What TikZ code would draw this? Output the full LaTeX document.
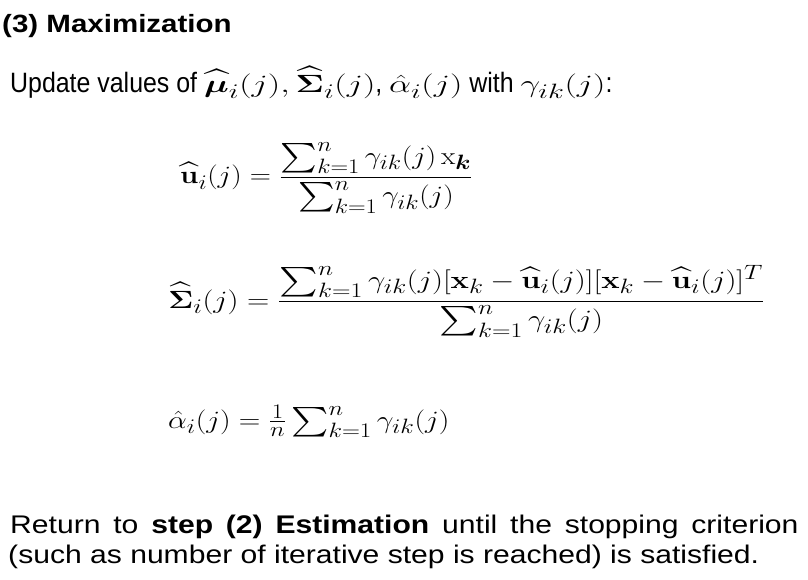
\documentclass[tikz,border=0pt]{standalone}
\usepackage{amsmath,amssymb}
\usepackage[no-math]{fontspec}
\setmainfont{Liberation Sans}
\newcommand\inmath[1]{\scalebox{1.58}[1]{\fontsize{32}{36}\selectfont$#1$}}
\begin{document}
\begin{tikzpicture}[x=1pt,y=-1pt]
	\useasboundingbox (0,0) rectangle (808,580);
	\begin{scope}[every node/.style={inner sep=0pt,anchor=base west}]
		\tikzstyle{head}=[font=\fontsize{25}{28}\selectfont\bfseries,xscale=1.18];
		\tikzstyle{body}=[font=\fontsize{28}{32}\selectfont,xscale=0.89];
		\tikzstyle{eqn}=[font=\fontsize{29.5}{34}\selectfont];
		\tikzstyle{foot}=[font=\fontsize{25.5}{30}\selectfont,xscale=1.18];
		\path (2,33) node[head] (title) {(3) Maximization};
		\path (10,93) node[body] (update) {Update values of \inmath{\widehat{\boldsymbol{\mu}}_i(j),\widehat{\boldsymbol{\Sigma}}_i(j)}, \inmath{\hat{\alpha}_i(j)} with \inmath{\gamma_{ik}(j)}:};
		% the three update rules
		\path (180,184) node[eqn,xscale=1.18] (muhat) {$\displaystyle \widehat{\mathbf{u}}_i(j)=\frac{\sum_{k=1}^{n}\gamma_{ik}(j)\,\mathrm{x}_{\boldsymbol{k}}}{\sum_{k=1}^{n}\gamma_{ik}(j)}$};
		\path (168,308) node[eqn,xscale=1.24] (sigmahat) {$\displaystyle \widehat{\boldsymbol{\Sigma}}_i(j)=\frac{\sum_{k=1}^{n}\gamma_{ik}(j)[\mathbf{x}_k-\widehat{\mathbf{u}}_i(j)][\mathbf{x}_k-\widehat{\mathbf{u}}_i(j)]^T}{\sum_{k=1}^{n}\gamma_{ik}(j)}$};
		\path (168,428) node[eqn,xscale=1.2] (alphahat) {$\hat{\alpha}_i(j)=\frac{1}{n}\sum_{k=1}^{n}\gamma_{ik}(j)$};
		% back to the E step
		\path (10,533) node[foot] (ret1) {\makebox[668pt][s]{Return to \textbf{step (2) Estimation} until the stopping criterion}};
		\path (8,563) node[foot] (ret2) {(such as number of iterative step is reached) is satisfied.};
	\end{scope}
\end{tikzpicture}
\end{document}
